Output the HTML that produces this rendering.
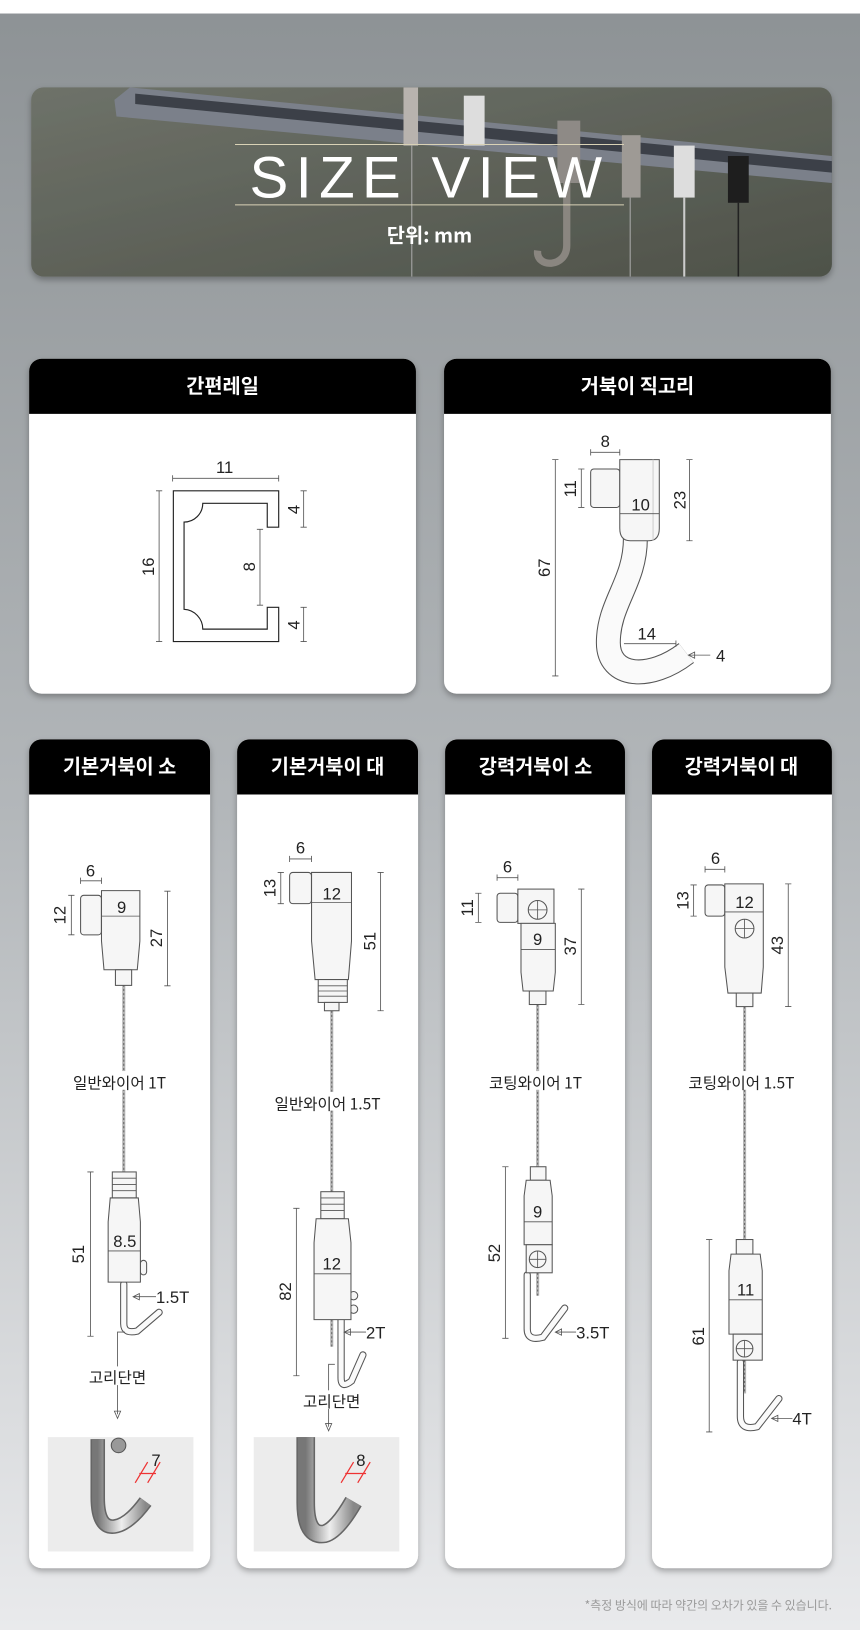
<!DOCTYPE html>
<html><head><meta charset="utf-8"><style>
html,body{margin:0;padding:0;width:860px;height:1630px;overflow:hidden;background:#fff}
svg{display:block}
text{font-family:"Liberation Sans","Noto Sans CJK KR",sans-serif}
.k{font-family:"Noto Sans CJK KR","Liberation Sans",sans-serif}
.d{stroke:#555;stroke-width:.8;fill:none}
.t{font-size:16px;fill:#222;text-anchor:middle}
.lab{font-size:15px;fill:#222;text-anchor:middle}
.b{fill:#f6f6f6;stroke:#555;stroke-width:1}
.w1{stroke:#b5b5b5;stroke-width:3;fill:none}
.w2{stroke:#666;stroke-width:1;stroke-dasharray:2 2;fill:none}
.hk{stroke:#555;stroke-width:7;fill:none;stroke-linecap:round}
.hk2{stroke:#fafafa;stroke-width:5;fill:none;stroke-linecap:round}
.h{fill:#fff;font-size:19px;font-weight:bold;text-anchor:middle}
</style></head><body>
<svg width="860" height="1630" viewBox="0 0 827 1567.5" preserveAspectRatio="none">
<defs>
<linearGradient id="bg" x1="0" y1="0" x2="0" y2="1"><stop offset="0" stop-color="#8d9295"/><stop offset=".5" stop-color="#b3b7ba"/><stop offset="1" stop-color="#e9eaec"/></linearGradient>
<linearGradient id="bn" x1="0" y1="0" x2="1" y2="1"><stop offset="0" stop-color="#6e7269"/><stop offset="1" stop-color="#4e5249"/></linearGradient>
<linearGradient id="mt" x1="0" y1="0" x2="1" y2="0"><stop offset="0" stop-color="#777"/><stop offset=".5" stop-color="#eee"/><stop offset="1" stop-color="#888"/></linearGradient>
<filter id="sh" x="-10%" y="-10%" width="120%" height="120%"><feDropShadow dx="0" dy="3" stdDeviation="3" flood-opacity=".3"/></filter>
</defs>
<rect width="827" height="1568" fill="url(#bg)"/>
<rect width="827" height="13" fill="#fff"/>

<!-- banner -->
<g filter="url(#sh)"><rect x="30" y="84" width="770" height="182" rx="12" fill="url(#bn)"/></g>
<clipPath id="bc"><rect x="30" y="84" width="770" height="182" rx="12"/></clipPath>
<g clip-path="url(#bc)">
<polygon points="110,96 125,84 800,150 800,176 112,112" fill="#7b808a"/>
<polygon points="130,90 800,155 800,166 130,100" fill="#3c4048"/>
<rect x="388" y="84" width="14" height="56" fill="#b8b3ae"/>
<rect x="446" y="92" width="20" height="48" fill="#ddd"/>
<path d="M536,116 h22 v60 h-22z" fill="#8e8a86"/>
<path d="M545,176 v60 c0,22 -30,22 -28,5" stroke="#8a8680" stroke-width="7" fill="none"/>
<rect x="598" y="130" width="18" height="60" fill="#9e9a95"/>
<rect x="648" y="140" width="20" height="50" fill="#ddd"/>
<rect x="700" y="150" width="20" height="45" fill="#1e1e1e"/>
<line x1="396" y1="140" x2="396" y2="266" stroke="#aaa" stroke-width="1"/>
<line x1="606" y1="190" x2="606" y2="266" stroke="#aaa" stroke-width="1"/>
<line x1="658" y1="190" x2="658" y2="266" stroke="#ccc" stroke-width="2"/>
<line x1="710" y1="195" x2="710" y2="266" stroke="#222" stroke-width="1.5"/>
</g>
<line x1="226" y1="139" x2="600" y2="139" stroke="#d9d2b6" stroke-width="1"/>
<line x1="226" y1="197" x2="600" y2="197" stroke="#d9d2b6" stroke-width="1"/>
<text x="413" y="190" style="font-size:56px;fill:#fff;text-anchor:middle;letter-spacing:7px">SIZE VIEW</text>
<text x="413" y="233" class="k" style="font-size:19px;fill:#fff;font-weight:bold;text-anchor:middle">단위: mm</text>

<!-- cards -->
<g filter="url(#sh)">
<rect x="28" y="345" width="372" height="322" rx="12" fill="#fff"/>
<rect x="427" y="345" width="372" height="322" rx="12" fill="#fff"/>
<rect x="28" y="711" width="174" height="797" rx="12" fill="#fff"/>
<rect x="228" y="711" width="174" height="797" rx="12" fill="#fff"/>
<rect x="428" y="711" width="173" height="797" rx="12" fill="#fff"/>
<rect x="627" y="711" width="173" height="797" rx="12" fill="#fff"/>
</g>
<path d="M28,398 V357 a12,12 0 0 1 12,-12 H388 a12,12 0 0 1 12,12 V398Z" fill="#000"/>
<path d="M427,398 V357 a12,12 0 0 1 12,-12 H787 a12,12 0 0 1 12,12 V398Z" fill="#000"/>
<path d="M28,764 V723 a12,12 0 0 1 12,-12 H190 a12,12 0 0 1 12,12 V764Z" fill="#000"/>
<path d="M228,764 V723 a12,12 0 0 1 12,-12 H390 a12,12 0 0 1 12,12 V764Z" fill="#000"/>
<path d="M428,764 V723 a12,12 0 0 1 12,-12 H589 a12,12 0 0 1 12,12 V764Z" fill="#000"/>
<path d="M627,764 V723 a12,12 0 0 1 12,-12 H788 a12,12 0 0 1 12,12 V764Z" fill="#000"/>
<text x="214" y="378" class="h k">간편레일</text>
<text x="613" y="378" class="h k">거북이 직고리</text>
<text x="115" y="744" class="h k">기본거북이 소</text>
<text x="315" y="744" class="h k">기본거북이 대</text>
<text x="515" y="744" class="h k">강력거북이 소</text>
<text x="713" y="744" class="h k">강력거북이 대</text>

<!-- rail -->
<path d="M166.7,472 H268 V507 H257 V484 H195 A18,18 0 0 1 177,502 V586 A19,19 0 0 1 195,605 H257 V584 H268 V617 H166.7Z" fill="#fff" stroke="#222" stroke-width="1.1"/>
<path class="d" d="M166,460 H268 M166,457 v6 M268,457 v6"/>
<text x="216" y="455" class="t">11</text>
<path class="d" d="M153,472 V617 M150,472 h6 M150,617 h6"/>
<text x="148" y="545" class="t" transform="rotate(-90 148 545)">16</text>
<path class="d" d="M250,509 V582 M247,509 h6 M247,582 h6"/>
<text x="245" y="545" class="t" transform="rotate(-90 245 545)">8</text>
<path class="d" d="M292,472 V507 M289,472 h6 M289,507 h6 M292,584 V617 M289,584 h6 M289,617 h6"/>
<text x="288" y="490" class="t" transform="rotate(-90 288 490)">4</text>
<text x="288" y="601" class="t" transform="rotate(-90 288 601)">4</text>

<!-- 직고리 -->
<path d="M611,518 C611,560 585,580 585,618 C585,652 625,655 660,628" stroke="#555" stroke-width="24" fill="none"/>
<path d="M611,518 C611,560 585,580 585,618 C585,652 625,655 660,628" stroke="#fafafa" stroke-width="22" fill="none"/>
<rect x="568" y="451" width="28" height="37" rx="3" class="b"/>
<path d="M596,442 H634 V508 Q634,520 624,520 H606 Q596,520 596,508Z" class="b"/>
<line x1="628" y1="442" x2="628" y2="520" stroke="#ccc"/>
<path class="d" d="M568,435 H596 M568,432 v6 M596,432 v6"/>
<text x="582" y="430" class="t">8</text>
<path class="d" d="M559,451 V488 M556,451 h6 M556,488 h6"/>
<text x="554" y="470" class="t" transform="rotate(-90 554 470)">11</text>
<path class="d" d="M596,494 H634"/>
<text x="616" y="491" class="t">10</text>
<path class="d" d="M663,442 V520 M660,442 h6 M660,520 h6"/>
<text x="659" y="481" class="t" transform="rotate(-90 659 481)">23</text>
<path class="d" d="M534,442 V650 M531,442 h6 M531,650 h6"/>
<text x="529" y="546" class="t" transform="rotate(-90 529 546)">67</text>
<path class="d" d="M600,619 H650 M650,616 v6"/>
<text x="622" y="615" class="t">14</text>
<path class="d" d="M683,630 H662 M662,630 l6,-3 v6z"/>
<text x="693" y="636" class="t">4</text>

<!-- 기본거북이 소 -->
<path class="w1" d="M119,947 V1127"/><path class="w2" d="M119,947 V1127"/>
<rect x="77.5" y="861" width="20" height="38" rx="3" class="b"/>
<path d="M97.6,856.5 H134.5 V905 L132,932.6 H100 L97.6,905Z" class="b"/>
<rect x="111" y="932.6" width="15.6" height="15" class="b"/>
<path class="d" d="M77.5,847 H97.6 M77.5,844 v6 M97.6,844 v6"/>
<text x="87" y="843" class="t">6</text>
<path class="d" d="M68.6,861 V899 M65.6,861 h6 M65.6,899 h6"/>
<text x="63" y="880" class="t" transform="rotate(-90 63 880)">12</text>
<path class="d" d="M97.6,881 H134.5"/>
<text x="117" y="878" class="t">9</text>
<path class="d" d="M161,857 V948 M158,857 h6 M158,948 h6"/>
<text x="156" y="902" class="t" transform="rotate(-90 156 902)">27</text>
<rect x="62" y="1030" width="106" height="18" fill="#fff"/>
<text x="115" y="1047" class="lab k">일반와이어 1T</text>
<path class="w1" d="M119,1233 V1260"/><path class="w2" d="M119,1233 V1260"/>
<path class="hk" d="M119,1235 V1273 Q119,1283 132,1280 L153,1262"/><path class="hk2" d="M119,1235 V1273 Q119,1283 132,1280 L153,1262"/>
<rect x="108" y="1127" width="23" height="25" class="b"/>
<path class="d" d="M108,1133 h23 M108,1139 h23 M108,1145 h23"/>
<rect x="135" y="1212" width="6" height="14" rx="3" class="b"/>
<path d="M106,1152 H133 L135,1175 V1233 H104 V1175Z" class="b"/>
<path class="d" d="M104,1203 H135"/>
<text x="120" y="1199" class="t">8.5</text>
<path class="d" d="M87,1127 V1285 M84,1127 h6 M84,1285 h6"/>
<text x="81" y="1206" class="t" transform="rotate(-90 81 1206)">51</text>
<path class="d" d="M150,1247 H128 M128,1247 l6,-3 v6z"/>
<text x="150" y="1253" class="t" style="text-anchor:start">1.5T</text>
<path class="d" d="M120,1281 H113 V1360 M113,1364 l-3,-7 h6z"/>
<rect x="75" y="1314" width="76" height="18" fill="#fff"/>
<text x="113" y="1330" class="lab k">고리단면</text>
<rect x="46" y="1382" width="140" height="110" fill="#ececec"/>
<path d="M94,1384 V1440 Q94,1470 110,1468 Q124,1466 140,1444" stroke="#666" stroke-width="14" fill="none"/>
<path d="M94,1384 V1440 Q94,1470 110,1468 Q124,1466 140,1444" stroke="url(#mt)" stroke-width="11" fill="none"/>
<circle cx="114" cy="1390" r="7" fill="#999" stroke="#555"/>
<path d="M130,1426 L142,1406 M142,1426 L154,1406 M134,1417 H150" stroke="#e33" stroke-width="1.2"/>
<text x="150" y="1410" class="t">7</text>

<!-- 기본거북이 대 -->
<path class="w1" d="M319,972 V1146"/><path class="w2" d="M319,972 V1146"/>
<rect x="278.5" y="839" width="21" height="30" rx="3" class="b"/>
<path d="M299.6,839 H338 V905 L335,942 H303 L299.6,905Z" class="b"/>
<rect x="306" y="942" width="28" height="22" class="b"/>
<path class="d" d="M306,948 h28 M306,953 h28 M306,958 h28"/>
<rect x="312" y="964" width="14" height="8" class="b"/>
<path class="d" d="M278.5,826 H299.6 M278.5,823 v6 M299.6,823 v6"/>
<text x="289" y="821" class="t">6</text>
<path class="d" d="M270,839 V869 M267,839 h6 M267,869 h6"/>
<text x="265" y="854" class="t" transform="rotate(-90 265 854)">13</text>
<path class="d" d="M299.6,868 H338"/>
<text x="319" y="865" class="t">12</text>
<path class="d" d="M366,839 V972 M363,839 h6 M363,972 h6"/>
<text x="361" y="905" class="t" transform="rotate(-90 361 905)">51</text>
<rect x="257" y="1050" width="118" height="18" fill="#fff"/>
<text x="315" y="1067" class="lab k">일반와이어 1.5T</text>
<path class="w1" d="M319,1269 V1295"/><path class="w2" d="M319,1269 V1295"/>
<path class="hk" d="M328,1269 V1325 Q328,1336 338,1328 L349,1303"/><path class="hk2" d="M328,1269 V1325 Q328,1336 338,1328 L349,1303"/>
<rect x="308.5" y="1146" width="22.5" height="26" class="b"/>
<path class="d" d="M308.5,1152 h22.5 M308.5,1158 h22.5 M308.5,1164 h22.5"/>
<circle cx="340" cy="1246" r="4" class="b"/><circle cx="340" cy="1259" r="4" class="b"/>
<path d="M304,1172 H335 L337.5,1195 V1269 H302 V1195Z" class="b"/>
<path class="d" d="M302,1225 H337.5"/>
<text x="319" y="1221" class="t">12</text>
<path class="d" d="M285,1162 V1323 M282,1162 h6 M282,1323 h6"/>
<text x="280" y="1242" class="t" transform="rotate(-90 280 1242)">82</text>
<path class="d" d="M352,1281 H331 M331,1281 l6,-3 v6z"/>
<text x="352" y="1287" class="t" style="text-anchor:start">2T</text>
<path class="d" d="M322,1312 H316 V1372 M316,1376 l-3,-7 h6z"/>
<rect x="283" y="1337" width="72" height="18" fill="#fff"/>
<text x="319" y="1353" class="lab k">고리단면</text>
<rect x="244" y="1382" width="140" height="110" fill="#ececec"/>
<path d="M294,1382 V1445 Q294,1478 312,1475 Q324,1472 340,1444" stroke="#666" stroke-width="18" fill="none"/>
<path d="M294,1382 V1445 Q294,1478 312,1475 Q324,1472 340,1444" stroke="url(#mt)" stroke-width="15" fill="none"/>
<path d="M328,1426 L340,1406 M344,1426 L356,1406 M332,1417 H352" stroke="#e33" stroke-width="1.2"/>
<text x="347" y="1410" class="t">8</text>

<!-- 강력거북이 소 -->
<path class="w1" d="M517,966 V1122"/><path class="w2" d="M517,966 V1122"/>
<rect x="478" y="859" width="20" height="28" rx="3" class="b"/>
<rect x="498" y="855" width="34.7" height="33" class="b"/>
<circle cx="517" cy="875" r="9" class="b"/><path class="d" d="M508,875 h18 M517,866 v18"/>
<path d="M501,888 H534 V935 L532,953 H503 L501,935Z" class="b"/>
<rect x="509" y="953" width="16" height="13" class="b"/>
<path class="d" d="M478,844 H498 M478,841 v6 M498,841 v6"/>
<text x="488" y="839" class="t">6</text>
<path class="d" d="M460,859 V887 M457,859 h6 M457,887 h6"/>
<text x="455" y="873" class="t" transform="rotate(-90 455 873)">11</text>
<path class="d" d="M501,913 H534"/>
<text x="517" y="909" class="t">9</text>
<path class="d" d="M559,855 V966 M556,855 h6 M556,966 h6"/>
<text x="554" y="910" class="t" transform="rotate(-90 554 910)">37</text>
<rect x="462" y="1030" width="106" height="18" fill="#fff"/>
<text x="515" y="1047" class="lab k">코팅와이어 1T</text>
<path class="w1" d="M517,1224 V1246"/><path class="w2" d="M517,1224 V1246"/>
<path class="hk" d="M507,1226 V1278 Q507,1290 522,1286 L543,1258"/><path class="hk2" d="M507,1226 V1278 Q507,1290 522,1286 L543,1258"/>
<rect x="510" y="1122" width="15" height="13" class="b"/>
<path d="M506,1135 H529 L531,1150 V1197 H504 V1150Z" class="b"/>
<rect x="506" y="1197" width="25" height="27" class="b"/>
<circle cx="517" cy="1211" r="8" class="b"/><path class="d" d="M509,1211 h16 M517,1203 v16"/>
<path class="d" d="M504,1175 H531"/>
<text x="517" y="1171" class="t">9</text>
<path class="d" d="M486,1122 V1287 M483,1122 h6 M483,1287 h6"/>
<text x="481" y="1205" class="t" transform="rotate(-90 481 1205)">52</text>
<path class="d" d="M554,1281 H534 M534,1281 l6,-3 v6z"/>
<text x="554" y="1287" class="t" style="text-anchor:start">3.5T</text>

<!-- 강력거북이 대 -->
<path class="w1" d="M716,968 V1192"/><path class="w2" d="M716,968 V1192"/>
<rect x="678" y="851" width="19" height="30" rx="3" class="b"/>
<path d="M697,850 H734 V930 L732,955 H700 L697,930Z" class="b"/>
<circle cx="716" cy="893" r="9" class="b"/><path class="d" d="M707,893 h18 M716,884 v18"/>
<rect x="708" y="955" width="16" height="13" class="b"/>
<path class="d" d="M678,836 H697 M678,833 v6 M697,833 v6"/>
<text x="688" y="831" class="t">6</text>
<path class="d" d="M667,851 V881 M664,851 h6 M664,881 h6"/>
<text x="662" y="866" class="t" transform="rotate(-90 662 866)">13</text>
<path class="d" d="M697,877 H734"/>
<text x="716" y="873" class="t">12</text>
<path class="d" d="M758,850 V968 M755,850 h6 M755,968 h6"/>
<text x="753" y="909" class="t" transform="rotate(-90 753 909)">43</text>
<rect x="654" y="1030" width="118" height="18" fill="#fff"/>
<text x="713" y="1047" class="lab k">코팅와이어 1.5T</text>
<path class="w1" d="M716,1308 V1340"/><path class="w2" d="M716,1308 V1340"/>
<path class="hk" d="M712,1310 V1362 Q712,1376 728,1372 L749,1345"/><path class="hk2" d="M712,1310 V1362 Q712,1376 728,1372 L749,1345"/>
<rect x="708" y="1192" width="16" height="14" class="b"/>
<path d="M703,1206 H731 L733,1222 V1283 H701 V1222Z" class="b"/>
<rect x="705" y="1283" width="28" height="25" class="b"/>
<circle cx="716" cy="1297" r="8" class="b"/><path class="d" d="M708,1297 h16 M716,1289 v16"/>
<path class="d" d="M701,1250 H733"/>
<text x="717" y="1246" class="t">11</text>
<path class="d" d="M682,1192 V1377 M679,1192 h6 M679,1377 h6"/>
<text x="677" y="1285" class="t" transform="rotate(-90 677 1285)">61</text>
<path class="d" d="M762,1364 H742 M742,1364 l6,-3 v6z"/>
<text x="762" y="1370" class="t" style="text-anchor:start">4T</text>

<text x="800" y="1548" class="k" style="font-size:11.5px;fill:#999;text-anchor:end">*측정 방식에 따라 약간의 오차가 있을 수 있습니다.</text>
</svg>
</body></html>
